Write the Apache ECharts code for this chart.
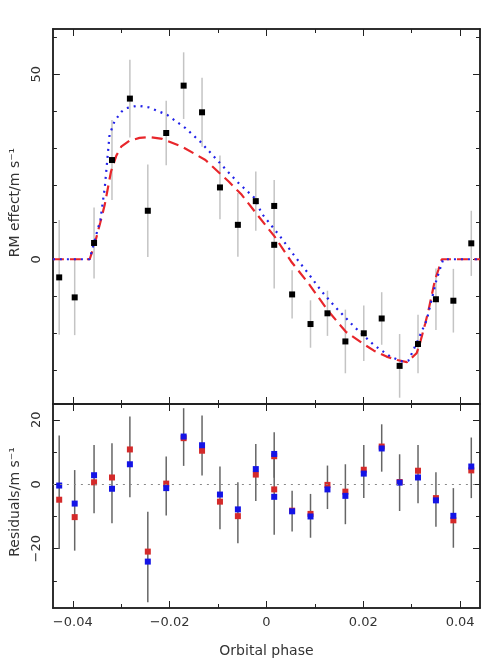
<!DOCTYPE html>
<html>
<head>
<meta charset="utf-8">
<script src="https://cdn.jsdelivr.net/npm/echarts@6.0.0/dist/echarts.min.js"></script>
<style>
  html, body { margin: 0; background: #fff; }
  #root { width: 485px; height: 661px; }
</style>
</head>
<body>
<div id="root"></div>
<script>
// observations (orbital phase, RM velocity, 1-sigma error)
const phase = [-0.0428, -0.0396, -0.0356, -0.0319, -0.0282, -0.0245, -0.0207, -0.0171, -0.0133, -0.0096, -0.0059, -0.0022,
  0.0016, 0.0016, 0.0053, 0.0091, 0.0126, 0.0163, 0.0201, 0.0238, 0.0275, 0.0313, 0.0350, 0.0386, 0.0423];
const rv = [-4.9, -10.3, 4.4, 26.8, 43.4, 13.1, 34.1, 46.9, 39.7, 19.4, 9.3, 15.7,
  14.4, 3.9, -9.5, -17.5, -14.6, -22.2, -20.0, -16.0, -28.8, -22.9, -10.8, -11.2, 4.3];
const rvErr = [15.5, 10.2, 9.6, 10.8, 10.5, 12.5, 8.7, 9.0, 9.3, 8.6, 8.6, 8.0,
  7.0, 11.8, 6.5, 6.4, 6.1, 8.6, 7.5, 7.1, 8.6, 7.9, 8.3, 8.6, 8.8];

// residuals for the two models
const resRed = [-4.8, -10.2, 0.6, 2.1, 10.8, -20.9, 0.2, 14.3, 10.4, -5.4, -9.9, 3.0,
  8.7, -1.6, -8.2, -9.2, -0.2, -2.3, 4.5, 11.7, 0.7, 4.2, -4.3, -11.2, 4.3];
const resBlue = [-0.4, -6.0, 2.8, -1.4, 6.2, -24.0, -1.2, 14.8, 12.1, -3.2, -7.8, 4.7,
  9.4, -3.9, -8.4, -10.0, -1.6, -3.6, 3.3, 11.1, 0.5, 2.1, -5.0, -9.8, 5.5];
const resBarHi = [15.1, 4.4, 12.2, 12.7, 21.0, -8.5, 8.6, 23.6, 21.3, 5.5, 0.6, 12.5,
  16.1, 9.3, -2.0, -3.0, 5.8, 6.2, 12.2, 18.6, 9.3, 12.2, 3.7, -1.2, 14.5];
const resBarLo = [-20.1, -20.6, -9.0, -12.1, -4.0, -36.6, -9.7, 5.7, 2.7, -14.0, -18.3, -5.2,
  2.0, -15.7, -14.7, -16.6, -7.7, -12.4, -4.3, 3.9, -8.3, -5.9, -13.2, -19.7, -4.3];

// model curves
const redPhase = [-0.0441, -0.0365, -0.0355, -0.0343, -0.0334, -0.0321, -0.0310, -0.0300, -0.0283, -0.0262, -0.0242,
  -0.0215, -0.0174, -0.0126, -0.0078, -0.0051, -0.0020, 0.0017, 0.0051, 0.0089, 0.0126, 0.0164, 0.0196, 0.0222,
  0.0248, 0.0270, 0.0290, 0.0310, 0.0317, 0.0328, 0.0334, 0.0348, 0.0355, 0.0362, 0.0441];
const redModel = [0, 0, 4, 10, 14.7, 23.7, 28, 30.4, 32, 32.8, 33,
  32.5, 30.4, 26.8, 21, 17.4, 12.2, 6.1, -0.6, -6.9, -13.7, -19.6, -22.5, -24.7,
  -26.3, -27.2, -27.8, -25.4, -22.7, -17.3, -14.2, -5.6, -2.9, 0, 0];
const bluePhase = [-0.0441, -0.0365, -0.0355, -0.0343, -0.0334, -0.0324, -0.0314, -0.0300, -0.0290, -0.0266, -0.0242,
  -0.0205, -0.0167, -0.0137, -0.0099, -0.0061, -0.0024, -0.0010, 0.0031, 0.0058, 0.0085, 0.0113, 0.0140, 0.0181,
  0.0222, 0.0256, 0.0280, 0.0293, 0.0310, 0.0331, 0.0351, 0.0365, 0.0441];
const blueModel = [0, 0, 5, 10.6, 19.2, 33.6, 37.2, 39.8, 40.8, 41.5, 41,
  39, 35.4, 31.8, 26.4, 21, 16.5, 12.4, 5.7, 0.9, -3.6, -8.5, -12.6, -18.2,
  -23.2, -26.3, -27.6, -27.4, -22.7, -16.4, -5.6, 0, 0];

// axes
const xRange = [-0.0441, 0.0441];
const xMajor = [-0.04, -0.02, 0, 0.02, 0.04];
const xMinor = [-0.03, -0.01, 0.01, 0.03];
const xTickLabels = ["\u22120.04", "\u22120.02", "0", "0.02", "0.04"];
const rvRange = [-39.1, 62.2];
const rvMajor = [0, 50];
const rvMinor = [-30, -20, -10, 10, 20, 30, 40, 60];
const rvTickLabels = ["0", "50"];
const resRange = [-38.4, 24.9];
const resMajor = [-20, 0, 20];
const resMinor = [-30, -10, 10];
const resTickLabels = ["\u221220", "0", "20"];

const FONT = "DejaVu Sans";
const INK = "#222";

function labelFor(values, labels) {
  return (v) => {
    const i = values.findIndex((m) => Math.abs(m - v) < 1e-9);
    return i < 0 ? "" : labels[i];
  };
}

function axis(grid, position, range, ticks, len, extra) {
  return Object.assign({
    type: "value",
    gridIndex: grid,
    position: position,
    min: range[0],
    max: range[1],
    axisLine: { show: true, onZero: false, lineStyle: { color: INK, width: 1.5 } },
    axisTick: { show: true, inside: true, length: len, customValues: ticks, lineStyle: { color: INK, width: 1 } },
    axisLabel: { show: false },
    splitLine: { show: false },
  }, extra || {});
}

const tickLabel = { fontFamily: FONT, fontSize: 13, color: "#333" };
const nameStyle = { fontFamily: FONT, fontSize: 14, color: "#333" };

const xAxes = [
  axis(0, "bottom", xRange, xMajor, 7),
  axis(0, "bottom", xRange, xMinor, 4),
  axis(0, "top", xRange, xMajor, 7),
  axis(0, "top", xRange, xMinor, 4),
  axis(1, "bottom", xRange, xMajor, 7, {
    axisLabel: Object.assign({ show: true, margin: 8, customValues: xMajor, formatter: labelFor(xMajor, xTickLabels) }, tickLabel),
    name: "Orbital phase",
    nameLocation: "middle",
    nameGap: 36,
    nameTextStyle: nameStyle,
  }),
  axis(1, "bottom", xRange, xMinor, 4),
  axis(1, "top", xRange, xMajor, 7),
  axis(1, "top", xRange, xMinor, 4),
];

const yAxes = [
  axis(0, "left", rvRange, rvMajor, 7, {
    axisLabel: Object.assign({ show: true, margin: 10, rotate: 90, customValues: rvMajor, formatter: labelFor(rvMajor, rvTickLabels) }, tickLabel),
    name: "RM effect/m s\u207B\u00B9",
    nameLocation: "middle",
    nameRotate: 90,
    nameGap: 28,
    nameTextStyle: Object.assign({ padding: [0, 0, 0, 28] }, nameStyle),
  }),
  axis(0, "left", rvRange, rvMinor, 4),
  axis(0, "right", rvRange, rvMajor, 7),
  axis(0, "right", rvRange, rvMinor, 4),
  axis(1, "left", resRange, resMajor, 7, {
    axisLabel: Object.assign({ show: true, margin: 10, rotate: 90, customValues: resMajor, formatter: labelFor(resMajor, resTickLabels) }, tickLabel),
    name: "Residuals/m s\u207B\u00B9",
    nameLocation: "middle",
    nameRotate: 90,
    nameGap: 28,
    nameTextStyle: Object.assign({ padding: [0, 0, 0, 8] }, nameStyle),
  }),
  axis(1, "left", resRange, resMinor, 4),
  axis(1, "right", resRange, resMajor, 7),
  axis(1, "right", resRange, resMinor, 4),
];

function errorBars(xi, yi, data, color) {
  return {
    type: "custom",
    xAxisIndex: xi,
    yAxisIndex: yi,
    data: data,
    encode: { x: 0, y: [1, 2] },
    z: 1,
    silent: true,
    renderItem: (params, api) => {
      const p1 = api.coord([api.value(0), api.value(1)]);
      const p2 = api.coord([api.value(0), api.value(2)]);
      return {
        type: "line",
        shape: { x1: p1[0], y1: p1[1], x2: p2[0], y2: p2[1] },
        style: { stroke: color, lineWidth: 1.5 },
      };
    },
  };
}

function squares(xi, yi, xs, ys, color, size) {
  return {
    type: "scatter",
    xAxisIndex: xi,
    yAxisIndex: yi,
    symbol: "rect",
    symbolSize: size,
    itemStyle: { color: color, opacity: 1 },
    data: xs.map((x, i) => [x, ys[i]]),
    z: 4,
    silent: true,
  };
}

function model(xs, ys, color, dash) {
  return {
    type: "line",
    xAxisIndex: 0,
    yAxisIndex: 0,
    showSymbol: false,
    smooth: false,
    data: xs.map((x, i) => [x, ys[i]]),
    lineStyle: { color: color, width: 2.2, type: dash },
    z: 3,
    silent: true,
  };
}

const chart = echarts.init(document.getElementById("root"), null, { renderer: "canvas" });

chart.setOption({
  animation: false,
  backgroundColor: "#fff",
  grid: [
    { left: 50, right: 5, top: 29, height: 375 },
    { left: 50, right: 5, top: 404, height: 204 },
  ],
  xAxis: xAxes,
  yAxis: yAxes,
  series: [
    errorBars(0, 0, phase.map((x, i) => [x, rv[i] - rvErr[i], rv[i] + rvErr[i]]), "#c4c4c4"),
    model(redPhase, redModel, "#e8262b", [11, 6]),
    model(bluePhase, blueModel, "#2222e8", [2, 5]),
    squares(0, 0, phase, rv, "#000", 6),

    errorBars(4, 4, phase.map((x, i) => [x, resBarLo[i], resBarHi[i]]), "#666"),
    Object.assign(squares(4, 4, phase, resRed, "#d42a2a", 6), {
      markLine: {
        silent: true,
        symbol: "none",
        label: { show: false },
        lineStyle: { color: "#888", width: 1, type: [2, 5] },
        data: [{ yAxis: 0 }],
      },
    }),
    squares(4, 4, phase, resBlue, "#1414e6", 6),
  ],
});
</script>
</body>
</html>
